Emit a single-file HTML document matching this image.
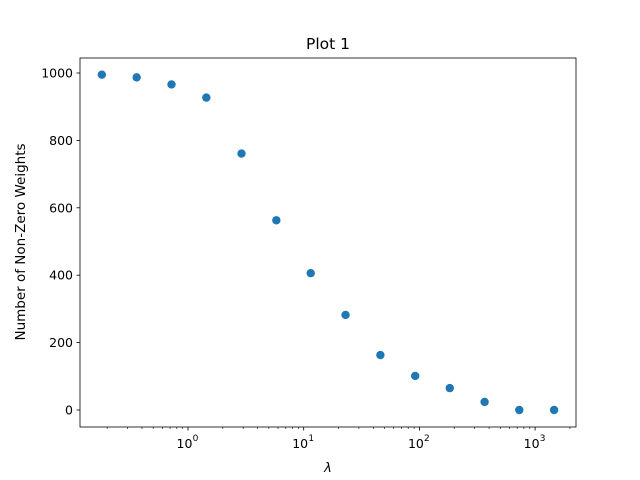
<!DOCTYPE html>
<html><head><meta charset="utf-8"><style>body{margin:0;background:#fff}svg{display:block}text{font-family:"DejaVu Sans","Liberation Sans",sans-serif;fill:#000}</style></head>
<body>
<svg width="640" height="480" viewBox="0 0 640 480">
<rect width="640" height="480" fill="#fff"/>
<text x="328" y="49" font-size="15.5" text-anchor="middle">Plot 1</text>
<g id="axes"></g>
<rect x="80" y="58" width="496" height="369" fill="none" stroke="#000" stroke-width="0.8"/>
<text x="328" y="472" font-size="13" text-anchor="middle" font-style="italic">λ</text>
<text transform="translate(25,242) rotate(-90)" font-size="13.5" text-anchor="middle">Number of Non-Zero Weights</text>
</svg>
<script>
const lambdas=[0.18,0.36,0.72,1.44,2.9,5.8,11.5,23,46,92,183,366,730,1460];
const weights=[995,987,966,927,761,563,406,282,163,101,65,24,0,0];
const yTicks=[0,200,400,600,800,1000];
const xDecades=[0,1,2,3];
const NS='http://www.w3.org/2000/svg';
const g=document.getElementById('axes');
const xs=v=>188+115.7*Math.log10(v);
const ys=v=>410-0.337*v;
function mk(t,a){const e=document.createElementNS(NS,t);for(const k in a)e.setAttribute(k,a[k]);g.appendChild(e);return e;}
yTicks.forEach(v=>{
 const l=mk('line',{x1:80,x2:76.5,y1:ys(v),y2:ys(v),stroke:'#000','stroke-width':0.8});
 
 
 const t=mk('text',{x:73,y:ys(v)+4.5,'font-size':12.5,'text-anchor':'end'});t.textContent=v;
 
 
});
for(let d=-1;d<=3;d++){for(let m=2;m<10;m++){const x=xs(m*Math.pow(10,d));if(x>80&&x<576){
 const l=mk('line',{x1:x,x2:x,y1:427,y2:429,stroke:'#000','stroke-width':0.6});
 
 }}}
xDecades.forEach(d=>{
 const x=xs(Math.pow(10,d));
 const l=mk('line',{x1:x,x2:x,y1:427,y2:430.5,stroke:'#000','stroke-width':0.8});
 
 
 const t=mk('text',{x:x-3.5,y:448,'font-size':12.5,'text-anchor':'middle'});t.textContent='10';
 
 
 const s=mk('text',{x:x+7.5,y:441,'font-size':9,'text-anchor':'middle'});s.textContent=d;
 
 
});
lambdas.forEach((v,i)=>{
 const c=mk('circle',{cx:xs(v),cy:ys(weights[i]),r:4.2,fill:'#1f77b4'});
 
 
});
</script>
</body></html>
